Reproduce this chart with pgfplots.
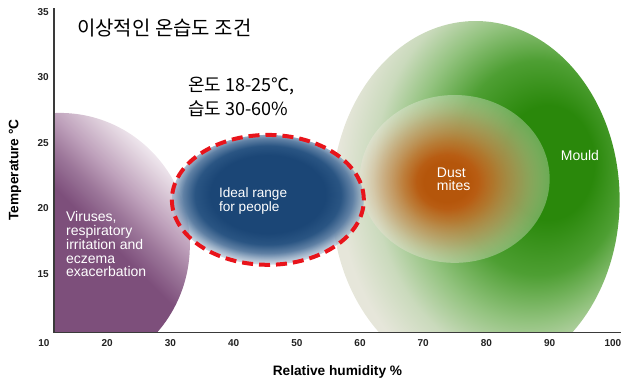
\documentclass[border=0pt]{standalone}
\usepackage{pgfplots}
\pgfplotsset{compat=1.18}
\usetikzlibrary{fadings}
\usepackage{fontspec}
\setmainfont{Liberation Sans}
\newfontfamily\kr{Noto Sans CJK KR}

\definecolor{tickcol}{HTML}{222222}
\definecolor{axcol}{HTML}{3A3A3A}
\definecolor{redline}{HTML}{E8141B}
% purple
\definecolor{pu0}{HTML}{F4EEF3}
\definecolor{pu1}{HTML}{DDCDDA}
\definecolor{pu2}{HTML}{BFA2BC}
\definecolor{pu3}{HTML}{9A7498}
\definecolor{pu4}{HTML}{7D4F7B}
% blue
\definecolor{bl0}{HTML}{1B4676}
\definecolor{bl1}{HTML}{2A5583}
\definecolor{bl2}{HTML}{6F8DAE}
\definecolor{bl3}{HTML}{C9D4E0}
% green
\definecolor{gr0}{HTML}{2A880B}
\definecolor{gr1}{HTML}{4E9F33}
\definecolor{gr2}{HTML}{93C37F}
\definecolor{gr3}{HTML}{CADABC}
\definecolor{gr4}{HTML}{E6E6DA}
% orange
\definecolor{or0}{HTML}{B5560B}
\definecolor{or1}{HTML}{BF6A22}
\definecolor{or2}{HTML}{C98A55}
\definecolor{or3}{HTML}{D4B48F}

\pgfdeclareverticalshading{purpshade}{100bp}{color(0bp)=(pu4); color(57bp)=(pu4); color(62bp)=(pu3); color(67bp)=(pu2); color(72bp)=(pu1); color(76bp)=(pu0); color(100bp)=(pu0)}
\pgfdeclareradialshading{greenshade}{\pgfpoint{14.5bp}{6bp}}{color(0bp)=(gr0); color(8bp)=(gr0); color(15bp)=(gr1); color(21bp)=(gr2); color(26bp)=(gr3); color(31bp)=(gr4); color(60bp)=(gr4)}
\pgfdeclareradialshading{orangeshade}{\pgfpoint{-2.5bp}{-1bp}}{color(0bp)=(or0); color(6bp)=(or0); color(12bp)=(or1); color(19bp)=(or2); color(25bp)=(or3); color(40bp)=(or3)}
\pgfdeclareradialshading{orangefadeshade}{\pgfpoint{-2.5bp}{-1bp}}{color(0bp)=(white); color(8bp)=(white); color(17bp)=(white!55!black); color(26bp)=(black); color(40bp)=(black)}
\pgfdeclarefading{orangefade}{\pgfuseshading{orangefadeshade}}
\pgfdeclareradialshading{blueshade}{\pgfpoint{0bp}{3.5bp}}{color(0bp)=(bl0); color(15bp)=(bl0); color(19bp)=(bl1); color(23bp)=(bl2); color(27bp)=(bl3); color(40bp)=(white)}
\pgfdeclareradialshading{bluefadeshade}{\pgfpoint{0bp}{3.5bp}}{color(0bp)=(white); color(22bp)=(white); color(25bp)=(white!70!black); color(28bp)=(white!25!black); color(31bp)=(black); color(40bp)=(black)}
\pgfdeclarefading{bluefade}{\pgfuseshading{bluefadeshade}}

\begin{document}
\begin{tikzpicture}
\begin{axis}[
  scale only axis, width=569.25bp, height=327.5bp,
  xmin=10, xmax=100, ymin=10, ymax=35,
  axis x line=bottom, axis y line=left,
  axis line style={draw=none},
  major tick length=0pt,
  xtick={10,20,...,100}, ytick={15,20,25,30,35},
  tick label style={font=\bfseries\fontsize{10bp}{12bp}\selectfont, text=tickcol},
  xticklabel style={inner sep=0pt},
  yticklabel style={inner sep=0pt, anchor=east, xshift=5bp},
  clip=false,
  /pgf/number format/assume math mode=true,
]
% page frame
\path (axis cs:3.044,6.756) rectangle (axis cs:101.39,35.916);

\begin{scope}
\clip (axis cs:11.58,10.5) rectangle (axis cs:101.35,35.9);
\shade[shading=greenshade] (axis cs:78.30,20.65) ellipse [x radius=22.77, y radius=13.66];
\fill[white, opacity=0.3] (axis cs:74.98,22.25) ellipse [x radius=15.02, y radius=6.41];
\shade[shading=orangeshade, path fading=orangefade] (axis cs:74.98,22.25) ellipse [x radius=15.02, y radius=6.41];
\shade[shading=purpshade, shading angle=-45] (axis cs:12.53,17.21) ellipse [x radius=20.55, y radius=10.08];
\end{scope}
\shade[shading=blueshade, path fading=bluefade] (axis cs:45.42,20.65) ellipse [x radius=15.18, y radius=4.96];
\draw[redline, line width=4bp, dash pattern=on 11bp off 6bp] (axis cs:45.42,20.65) ellipse [x radius=15.18, y radius=4.96];

% axis lines
\draw[axcol, line width=1.2bp] (axis cs:11.58,35.3) -- (axis cs:11.58,10.5) -- (axis cs:101.35,10.5);

% labels
\node[anchor=base, inner sep=0, font=\bfseries\fontsize{13.7bp}{16bp}\selectfont] at (axis cs:56.43,7.24) {Relative humidity \%};
\node[rotate=90, anchor=center, inner sep=0, font=\bfseries\fontsize{13.7bp}{16bp}\selectfont] at (axis cs:5.415,22.94) {Temperature °C};

% Korean annotations
\node[anchor=base west, inner sep=0, font=\kr\fontsize{20bp}{24bp}\selectfont] at (axis cs:15.22,33.20) {이상적인 온습도 조건};
\node[anchor=base west, inner sep=0, font=\kr\fontsize{18bp}{22bp}\selectfont] at (axis cs:32.77,28.89) {온도 18-25℃,};
\node[anchor=base west, inner sep=0, font=\kr\fontsize{18bp}{22bp}\selectfont] at (axis cs:32.77,27.06) {습도 30-60\%};

% white labels
\begin{scope}[every node/.style={anchor=base west, inner sep=0, text=white, font=\fontsize{14bp}{16bp}\selectfont}]
\node at (axis cs:13.48,18.97) {Viruses,};
\node at (axis cs:13.48,17.92) {respiratory};
\node at (axis cs:13.48,16.87) {irritation and};
\node at (axis cs:13.48,15.82) {eczema};
\node at (axis cs:13.48,14.77) {exacerbation};
\node[font=\fontsize{13.6bp}{16bp}\selectfont] at (axis cs:37.67,20.82) {Ideal range};
\node[font=\fontsize{13.6bp}{16bp}\selectfont] at (axis cs:37.67,19.76) {for people};
\node at (axis cs:72.13,22.37) {Dust};
\node at (axis cs:72.13,21.36) {mites};
\node at (axis cs:91.74,23.65) {Mould};
\end{scope}
\end{axis}
\end{tikzpicture}
\end{document}
